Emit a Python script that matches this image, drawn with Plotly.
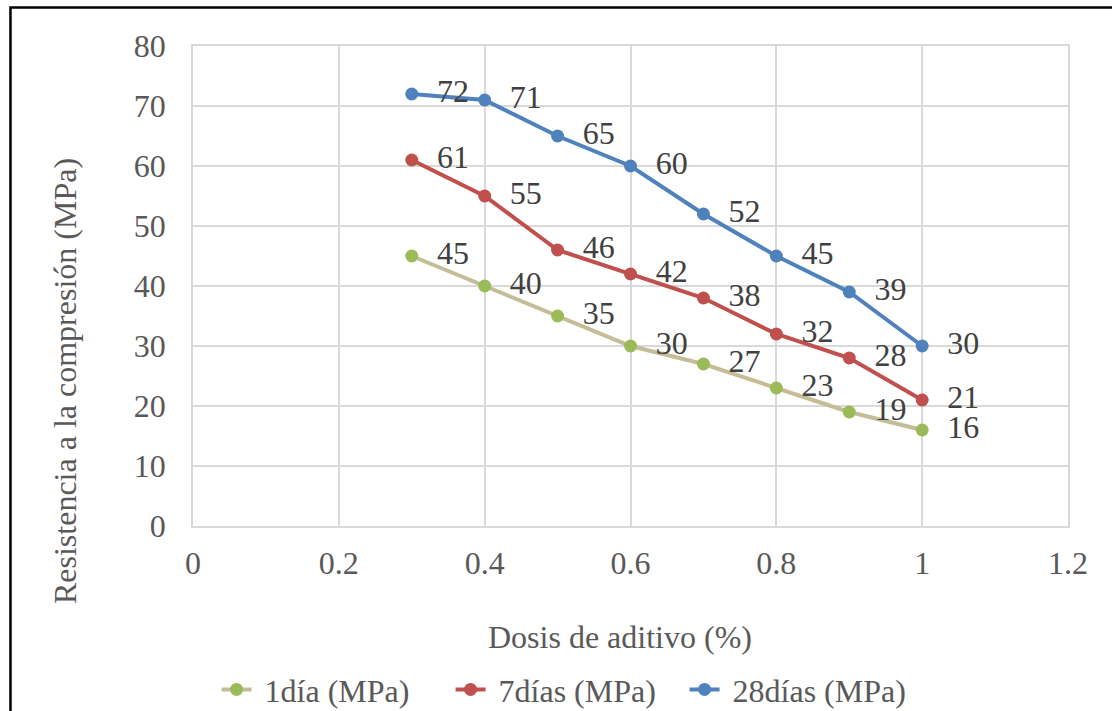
import plotly.graph_objects as go

# Dosage of additive (%) and compressive strength at each age (MPa)
dosis = [0.3, 0.4, 0.5, 0.6, 0.7, 0.8, 0.9, 1.0]
res_1dia = [45, 40, 35, 30, 27, 23, 19, 16]
res_7dias = [61, 55, 46, 42, 38, 32, 28, 21]
res_28dias = [72, 71, 65, 60, 52, 45, 39, 30]

x_ticks = [0, 0.2, 0.4, 0.6, 0.8, 1.0, 1.2]
x_tick_text = ["0", "0.2", "0.4", "0.6", "0.8", "1", "1.2"]
y_ticks = [0, 10, 20, 30, 40, 50, 60, 70, 80]

FONT = "Liberation Serif"
TXT = "#595959"
FS = 32
NBSP = "\u00a0"

series = [
    ("1día (MPa)", res_1dia, "#c4bd97", "#9bbb59"),
    ("7días (MPa)", res_7dias, "#c0504d", "#c0504d"),
    ("28días (MPa)", res_28dias, "#4f81bd", "#4f81bd"),
]

fig = go.Figure()
for name, vals, line_col, mk_col in series:
    fig.add_trace(go.Scatter(
        x=dosis, y=vals, name=NBSP + name,
        mode="lines+markers+text",
        line=dict(color=line_col, width=4),
        marker=dict(color=mk_col, size=13),
        text=["  " + str(v) for v in vals],
        textposition="middle right",
        textfont=dict(family=FONT, size=FS, color="#404040"),
        cliponaxis=False,
    ))

fig.update_layout(
    width=1112, height=711,
    margin=dict(l=193, r=44, t=46, b=185, autoexpand=False),
    paper_bgcolor="white", plot_bgcolor="white",
    font=dict(family=FONT, size=FS, color=TXT),
    showlegend=True,
    legend=dict(orientation="h", xref="container", x=0.5104, xanchor="center",
                yref="container", y=0.03, yanchor="middle",
                font=dict(family=FONT, size=FS, color=TXT),
                entrywidth=189, traceorder="normal"),
    xaxis=dict(range=[0, 1.2], tickvals=x_ticks, ticktext=x_tick_text,
               showgrid=True, gridcolor="#d9d9d9", gridwidth=1.5,
               showline=True, linecolor="#d9d9d9", linewidth=1.5, mirror=True,
               zeroline=False, ticklabelstandoff=8,
               tickfont=dict(family=FONT, size=FS, color=TXT)),
    yaxis=dict(range=[0, 80], tickvals=y_ticks,
               showgrid=True, gridcolor="#d9d9d9", gridwidth=1.5,
               showline=True, linecolor="#d9d9d9", linewidth=1.5, mirror=True,
               zeroline=False, ticklabelstandoff=19,
               tickfont=dict(family=FONT, size=FS, color=TXT)),
    annotations=[
        dict(text="Dosis de aditivo (%)", xref="paper", yref="paper",
             x=0.488, y=-0.231, xanchor="center", yanchor="middle",
             showarrow=False, font=dict(family=FONT, size=FS, color=TXT)),
        dict(text="Resistencia a la compresión (MPa)", xref="paper", yref="paper",
             x=-0.1463, y=0.302, xanchor="center", yanchor="middle", textangle=-90,
             showarrow=False, font=dict(family=FONT, size=FS, color=TXT)),
    ],
    shapes=[
        dict(type="rect", xref="paper", yref="paper",
             x0=-0.2086, y0=-0.42, x1=1.07, y1=1.0802,
             line=dict(color="black", width=2.5), layer="above"),
    ],
)

fig.write_html("out.html")
